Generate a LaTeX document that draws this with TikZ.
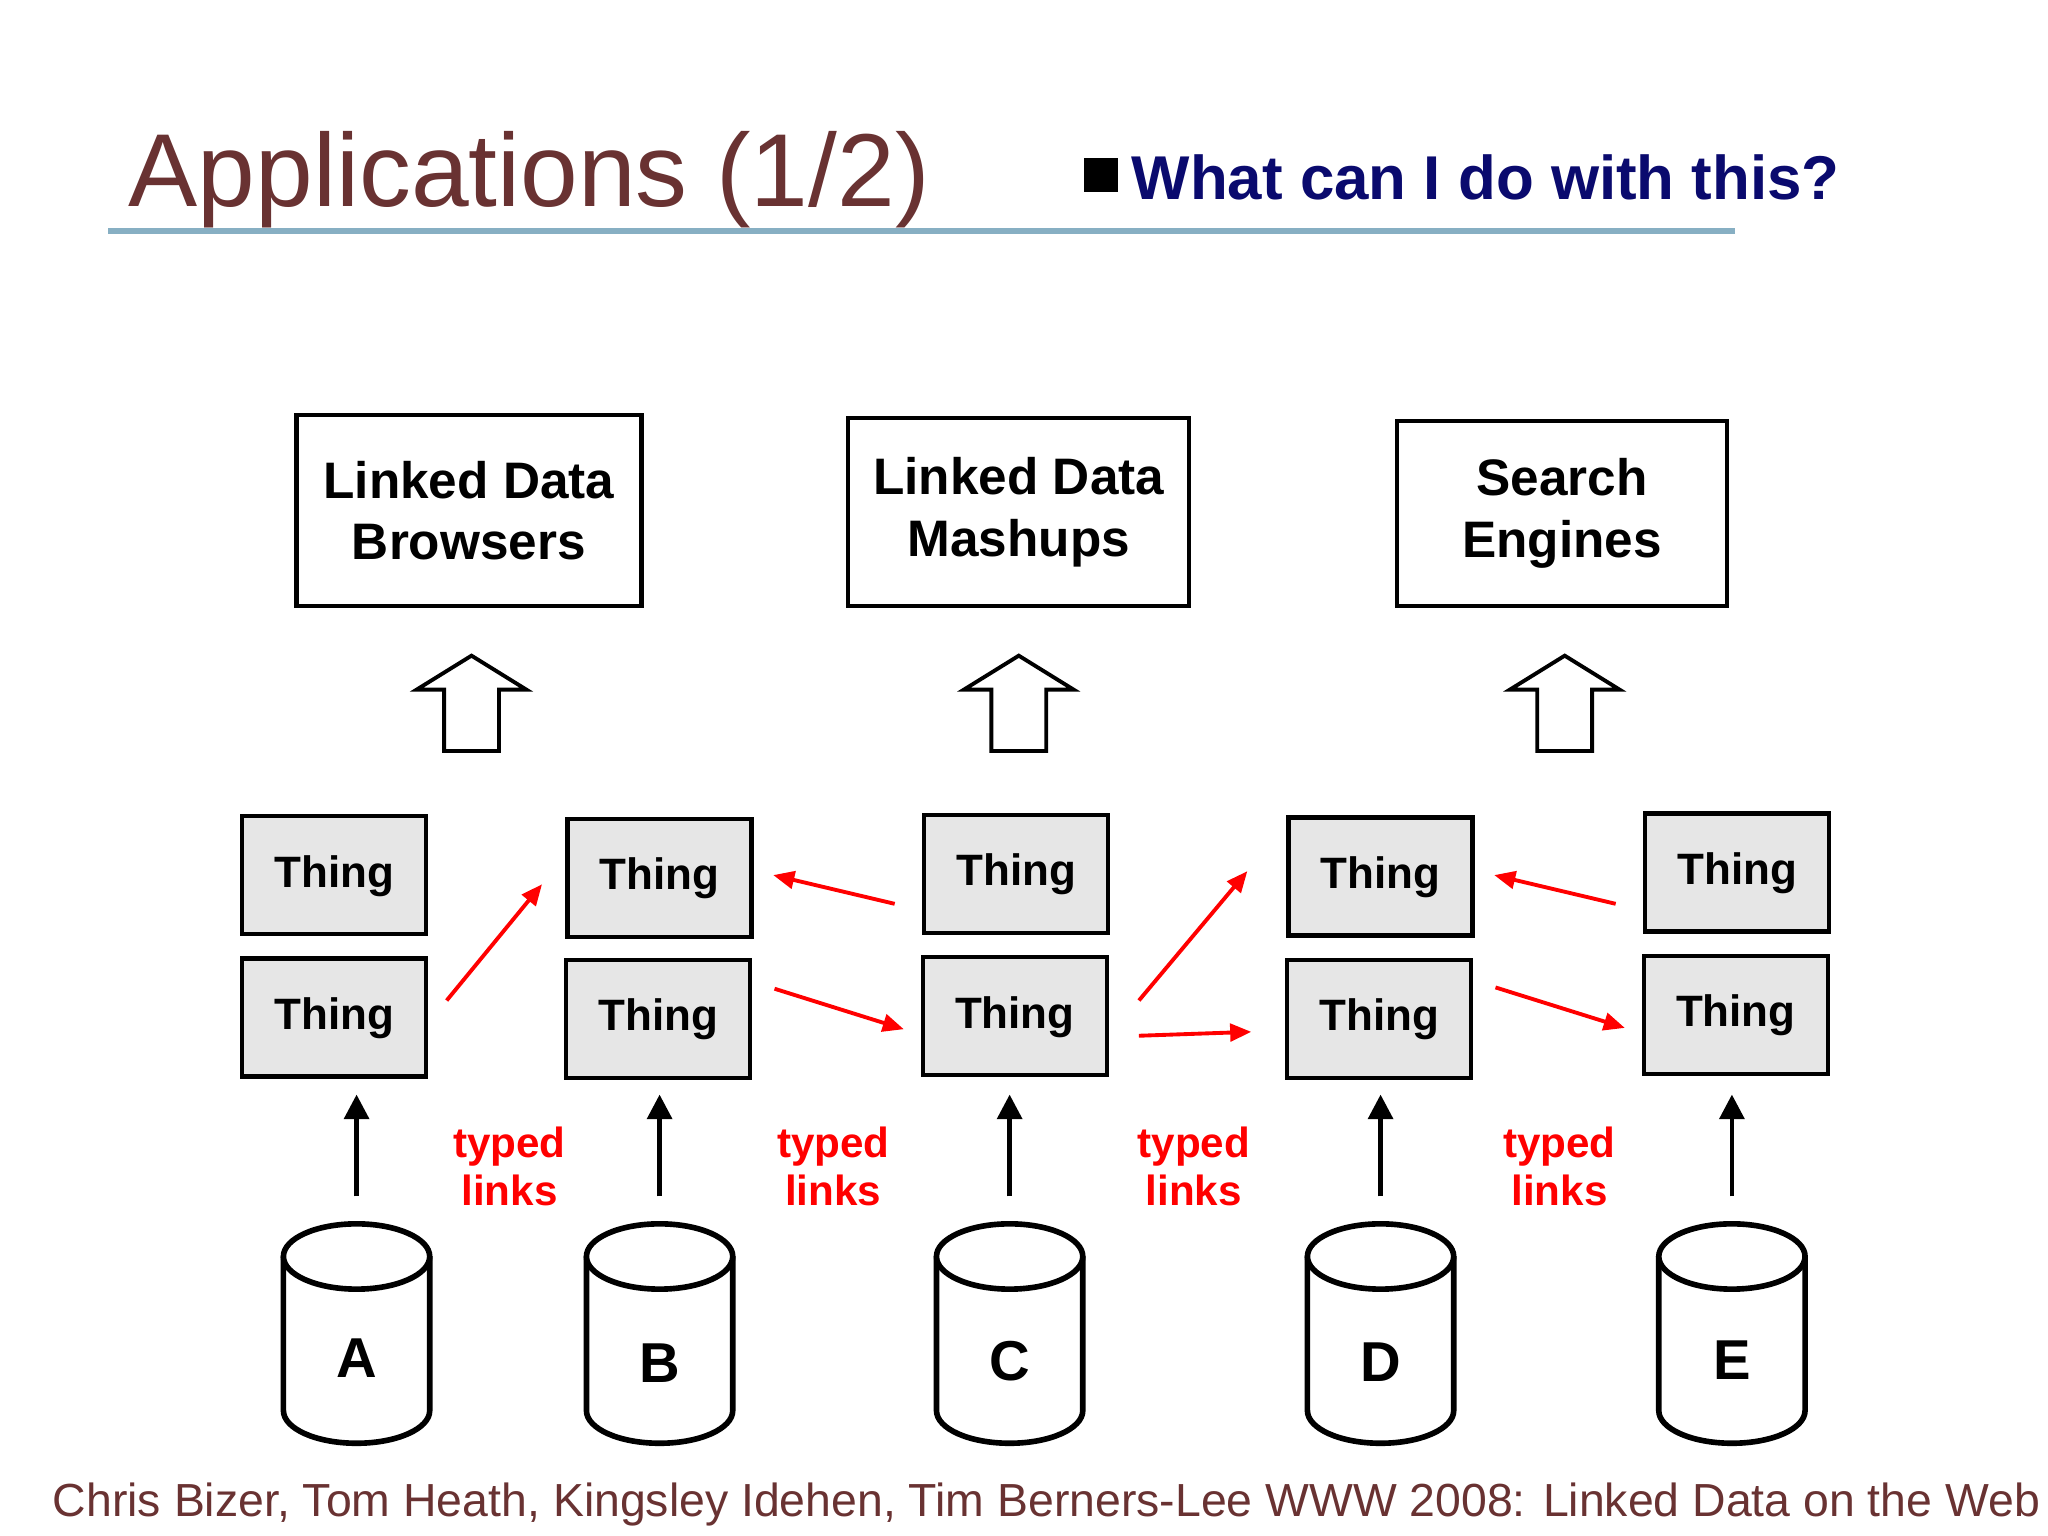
\documentclass[tikz,border=0pt]{standalone}
\usepackage{fontspec}
\setmainfont{Liberation Sans}
\usetikzlibrary{arrows.meta}
\definecolor{titlec}{RGB}{105,50,50}
\definecolor{rulec}{RGB}{135,175,195}
\definecolor{navy}{RGB}{10,10,110}
\definecolor{thingc}{RGB}{230,230,230}
\begin{document}
\begin{tikzpicture}[x=0.013061cm,y=-0.013061cm,
  app/.style={draw,line width=1.2pt,align=center,inner sep=0pt,font=\bfseries\fontsize{14.6}{17.5}\selectfont},
  thing/.style={draw,line width=1.2pt,fill=thingc,minimum width=1.84cm,minimum height=1.18cm,inner sep=0pt,text height=1.6ex,text depth=0.3ex,font=\bfseries\fontsize{12.5}{15}\selectfont},
  up/.style={-{Triangle[length=7pt,width=7pt]},line width=1.3pt},
  red/.style={-{Triangle[length=6pt,width=5pt]},draw=red,line width=1.1pt},
  tl/.style={text=red,font=\bfseries\fontsize{12}{13.5}\selectfont,align=center},
  lab/.style={font=\bfseries\fontsize{16}{19}\selectfont}]
\useasboundingbox (0,0) rectangle (1568,1176);
\fill[white] (0,0) rectangle (1568,1176);
\node[anchor=base west,text=titlec,font=\fontsize{29.5}{34}\selectfont,inner sep=0pt] (title) at (98,158) {Applications (1/2)};
\draw[rulec,line width=1.6pt] (83,177) -- (1328,177);
\fill (830,121) rectangle (856,147);
\node[anchor=base west,text=navy,font=\bfseries\fontsize{17.6}{21}\selectfont,inner sep=0pt] (sub) at (866,153) {What can I do with this?};
% app boxes
\node[app,minimum width=3.45cm,minimum height=1.91cm] (b1) at (359,391) {Linked Data\\Browsers};
\node[app,minimum width=3.41cm,minimum height=1.88cm] (b2) at (780,392) {Linked Data\\Mashups};
\node[app,minimum width=3.30cm,minimum height=1.85cm] (b3) at (1196,393) {Search\\Engines};
% hollow arrows
\foreach \x in {361,780,1198}{
  \draw[line width=1.1pt] (\x-21,575) -- (\x-21,528) -- (\x-42,528) -- (\x,502) -- (\x+42,528) -- (\x+21,528) -- (\x+21,575) -- cycle;}
% things
\node[thing] (t1a) at (256,670) {Thing};
\node[thing] (t1b) at (256,779) {Thing};
\node[thing] (t2a) at (505,672) {Thing};
\node[thing] (t2b) at (504,780) {Thing};
\node[thing] (t3a) at (778,669) {Thing};
\node[thing] (t3b) at (777,778) {Thing};
\node[thing] (t4a) at (1057,671) {Thing};
\node[thing] (t4b) at (1056,780) {Thing};
\node[thing] (t5a) at (1330,668) {Thing};
\node[thing] (t5b) at (1329,777) {Thing};
% cylinders
\foreach \x/\l/\n/\ly in {273/A/dA/1040,505/B/dB/1044,773/C/dC/1042,1057/D/dD/1043,1326/E/dE/1041}{
  \draw[line width=1.6pt,fill=white] (\x-56,962) -- (\x-56,1080) arc[start angle=180,end angle=0,x radius=56,y radius=25] -- (\x+56,962);
  \draw[line width=1.6pt,fill=white] (\x,962) ellipse[x radius=56,y radius=25];
  \node[lab] (\n) at (\x,\ly) {\l};
  \coordinate (s\n) at (\x,916);
  \coordinate (e\n) at (\x,838);
  \draw[up] (s\n) -- (e\n);
}
% red links
\coordinate (r1s) at (342,766); \coordinate (r1e) at (415,677);
\coordinate (r2s) at (685,692); \coordinate (r2e) at (592,670);
\coordinate (r3s) at (593,757); \coordinate (r3e) at (692,788);
\coordinate (r4s) at (872,766); \coordinate (r4e) at (955,667);
\coordinate (r5s) at (872,793); \coordinate (r5e) at (958,790);
\coordinate (r6s) at (1237,692); \coordinate (r6e) at (1144,670);
\coordinate (r7s) at (1145,756); \coordinate (r7e) at (1244,787);
\foreach \i in {1,...,7}{\draw[red] (r\i s) -- (r\i e);}
\foreach \x/\n in {390/l1,638/l2,914/l3,1194/l4}{
  \node[tl] (\n) at (\x,893) {typed\\links};}
\node[anchor=base west,text=titlec,font=\fontsize{13.2}{15}\selectfont,inner sep=0pt] (foot) at (40,1161) {Chris Bizer, Tom Heath, Kingsley Idehen, Tim Berners-Lee WWW 2008: Linked Data on the Web};
\end{tikzpicture}
\end{document}
